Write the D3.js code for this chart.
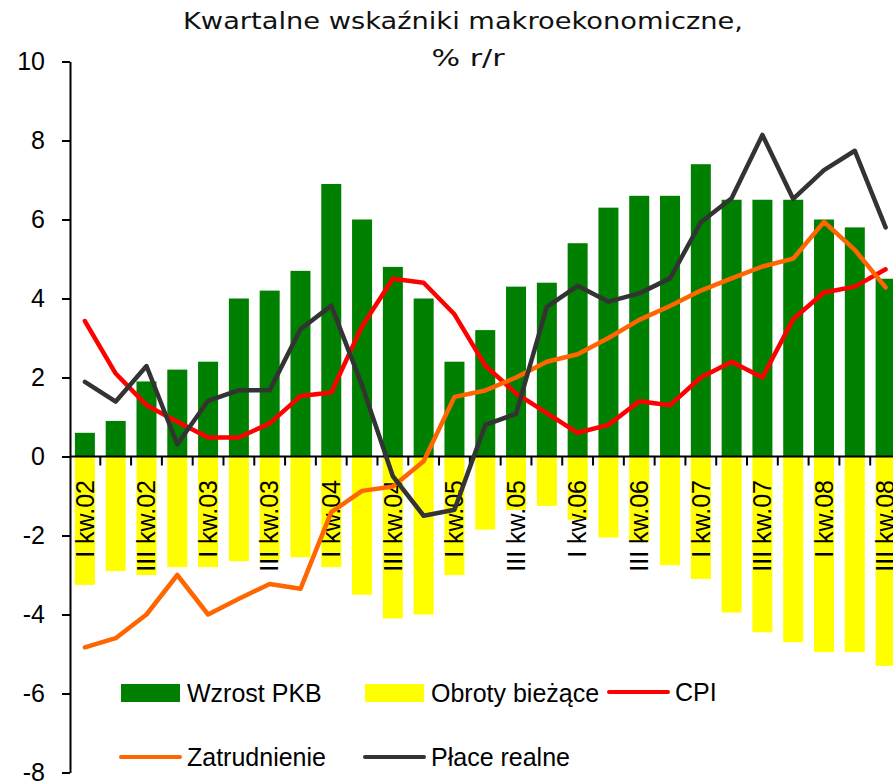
<!DOCTYPE html>
<html>
<head>
<meta charset="utf-8">
<script src="https://cdn.jsdelivr.net/npm/d3@7"></script>
<style>
  html, body { margin: 0; padding: 0; background: #fff; }
  svg { display: block; }
</style>
</head>
<body>
<svg id="chart" width="893" height="782"></svg>
<script>
// ---------------- data ----------------
const quarters = [
  "I kw.02","II kw.02","III kw.02","IV kw.02",
  "I kw.03","II kw.03","III kw.03","IV kw.03",
  "I kw.04","II kw.04","III kw.04","IV kw.04",
  "I kw.05","II kw.05","III kw.05","IV kw.05",
  "I kw.06","II kw.06","III kw.06","IV kw.06",
  "I kw.07","II kw.07","III kw.07","IV kw.07",
  "I kw.08","II kw.08","III kw.08"
];
const gdpGrowth = [0.6,0.9,1.9,2.2,2.4,4.0,4.2,4.7,6.9,6.0,4.8,4.0,2.4,3.2,4.3,4.4,5.4,6.3,6.6,6.6,7.4,6.5,6.5,6.5,6.0,5.8,4.5];
const currentAccount = [-3.25,-2.9,-3.0,-2.8,-2.8,-2.65,-2.65,-2.55,-2.8,-3.5,-4.1,-4.0,-3.0,-1.85,-1.35,-1.25,-1.6,-2.05,-2.15,-2.75,-3.1,-3.95,-4.45,-4.7,-4.95,-4.95,-5.3];
const cpi = [3.43,2.1,1.3,0.88,0.48,0.48,0.84,1.53,1.62,3.3,4.5,4.4,3.6,2.3,1.6,1.1,0.6,0.8,1.4,1.3,2.0,2.4,2.0,3.48,4.15,4.3,4.74];
const employment = [-4.83,-4.6,-4.0,-3.0,-4.0,-3.6,-3.23,-3.35,-1.41,-0.87,-0.76,-0.12,1.51,1.67,2.0,2.4,2.59,3.0,3.46,3.81,4.2,4.51,4.81,5.01,5.94,5.23,4.28];
const realWages = [1.89,1.39,2.29,0.31,1.41,1.68,1.68,3.22,3.82,1.8,-0.5,-1.5,-1.35,0.8,1.08,3.79,4.32,3.92,4.13,4.51,5.93,6.54,8.14,6.52,7.25,7.74,5.8];
const yTicks = [-8,-6,-4,-2,0,2,4,6,8,10];
const titleLines = ["Kwartalne wskaźniki makroekonomiczne,", "% r/r"];
const seriesNames = ["Wzrost PKB","Obroty bieżące","CPI","Zatrudnienie","Płace realne"];

// ---------------- chart ----------------
const svg = d3.select("#chart");
const FONT = "'Liberation Sans', Arial, sans-serif";

const x = d3.scaleBand().domain(quarters).range([69.5, 901]).padding(0);
const y = d3.scaleLinear().domain([-8, 10]).range([772.5, 61.5]);
const bw = x.bandwidth();
const barW = 20;
const cx = q => x(q) + bw / 2;

// title
const title = svg.append("g").attr("font-family", "'DejaVu Sans', Verdana, sans-serif")
  .attr("font-size", 23).attr("fill", "#111").attr("text-anchor", "middle");
title.append("text").attr("x", 463).attr("y", 29)
  .attr("textLength", 560).attr("lengthAdjust", "spacingAndGlyphs").text(titleLines[0]);
title.append("text").attr("x", 468).attr("y", 66)
  .attr("textLength", 73).attr("lengthAdjust", "spacingAndGlyphs").text(titleLines[1]);

// bars
const bars = svg.append("g");
bars.selectAll("rect.gdp").data(quarters).join("rect").attr("class", "gdp")
  .attr("x", q => x(q) + (bw - barW) / 2).attr("width", barW)
  .attr("y", (q, i) => y(Math.max(0, gdpGrowth[i])))
  .attr("height", (q, i) => Math.abs(y(gdpGrowth[i]) - y(0)))
  .attr("fill", "#008000");
bars.selectAll("rect.ca").data(quarters).join("rect").attr("class", "ca")
  .attr("x", q => x(q) + (bw - barW) / 2).attr("width", barW)
  .attr("y", (q, i) => y(Math.max(0, currentAccount[i])))
  .attr("height", (q, i) => Math.abs(y(currentAccount[i]) - y(0)))
  .attr("fill", "#FFFF00");

// zero axis line with ticks at category boundaries
const xAxis = svg.append("g");
xAxis.append("line").attr("x1", 70).attr("x2", 893).attr("y1", y(0)).attr("y2", y(0))
  .attr("stroke", "#000").attr("stroke-width", 2);
xAxis.selectAll("line.tk").data(quarters.slice(1)).join("line").attr("class", "tk")
  .attr("x1", q => x(q)).attr("x2", q => x(q))
  .attr("y1", y(0)).attr("y2", y(0) + 9)
  .attr("stroke", "#000").attr("stroke-width", 2);

// category labels (every second quarter)
svg.append("g").attr("font-family", FONT).attr("font-size", 25).attr("fill", "#000")
  .selectAll("text").data(quarters.filter((q, i) => i % 2 === 0)).join("text")
  .attr("transform", q => `translate(${cx(q)},480) rotate(-90)`)
  .attr("text-anchor", "end").attr("dy", "0.35em")
  .text(q => q);

// y axis
const yAxis = svg.append("g").attr("transform", "translate(70,0)")
  .call(d3.axisLeft(y).tickValues(yTicks).tickSize(8).tickSizeOuter(0).tickPadding(17).tickFormat(d3.format("d")));
yAxis.select(".domain").attr("stroke", "#000").attr("stroke-width", 2);
yAxis.selectAll(".tick line").attr("stroke", "#000").attr("stroke-width", 2);
yAxis.selectAll(".tick text").attr("font-family", FONT).attr("font-size", 25)
  .attr("fill", "#000").attr("dy", "0.3em");
yAxis.selectAll(".tick text").text(d => d < 0 ? "-" + Math.abs(d) : d);

// lines
const lineGen = d3.line().x((d, i) => cx(quarters[i])).y(d => y(d));
const lines = [
  { data: cpi, color: "#FF0000" },
  { data: employment, color: "#FF6600" },
  { data: realWages, color: "#333333" }
];
svg.append("g").selectAll("path").data(lines).join("path")
  .attr("d", d => lineGen(d.data))
  .attr("fill", "none").attr("stroke", d => d.color)
  .attr("stroke-width", 4.5).attr("stroke-linejoin", "round").attr("stroke-linecap", "round");

// legend
const legend = svg.append("g").attr("font-family", FONT).attr("font-size", 25).attr("fill", "#000");
const legItems = [
  { name: seriesNames[0], type: "rect", color: "#008000", x: 121, y: 693 },
  { name: seriesNames[1], type: "rect", color: "#FFFF00", x: 365, y: 693 },
  { name: seriesNames[2], type: "line", color: "#FF0000", x: 609, y: 692 },
  { name: seriesNames[3], type: "line", color: "#FF6600", x: 121, y: 757 },
  { name: seriesNames[4], type: "line", color: "#333333", x: 365, y: 757 }
];
legItems.forEach(it => {
  if (it.type === "rect") {
    legend.append("rect").attr("x", it.x).attr("y", it.y - 9).attr("width", 59).attr("height", 18).attr("fill", it.color);
  } else {
    legend.append("line").attr("x1", it.x).attr("x2", it.x + 59).attr("y1", it.y).attr("y2", it.y)
      .attr("stroke", it.color).attr("stroke-width", 4).attr("stroke-linecap", "round");
  }
  legend.append("text").attr("x", it.x + 66).attr("y", it.y + 8.5).text(it.name);
});
</script>
</body>
</html>
